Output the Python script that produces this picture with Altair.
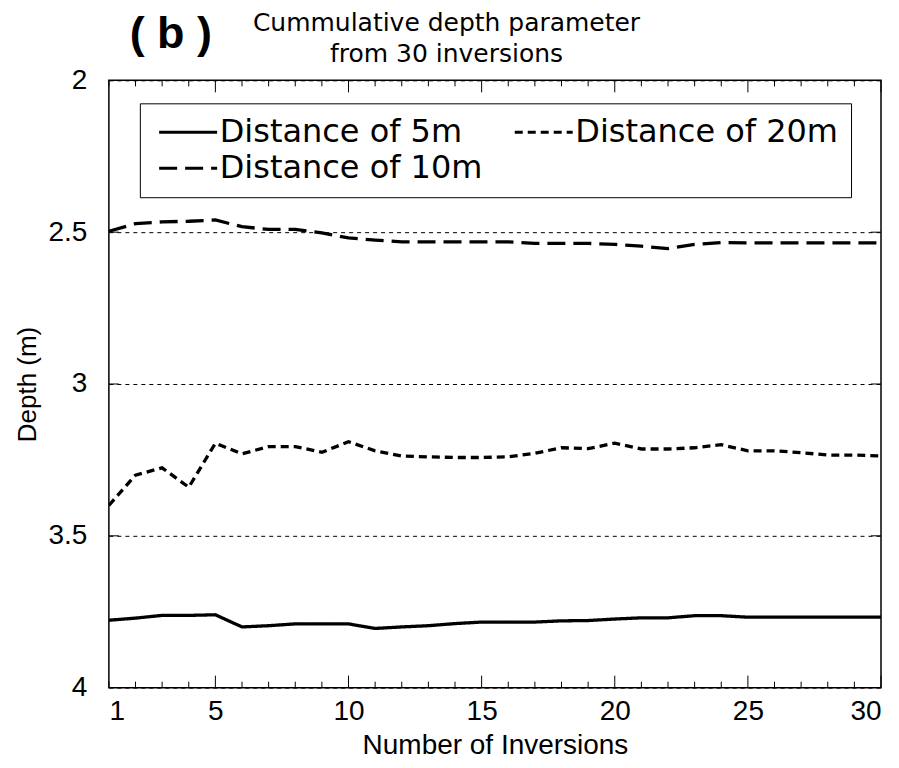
import altair as alt
import pandas as pd

# ---- data ----
inversions = list(range(1, 31))
series_names = ["Distance of 5m", "Distance of 10m", "Distance of 20m"]
depth_5m = [3.778, 3.771, 3.762, 3.762, 3.760, 3.800, 3.796, 3.790, 3.790, 3.790,
            3.805, 3.800, 3.796, 3.789, 3.784, 3.784, 3.784, 3.780, 3.779, 3.774,
            3.770, 3.770, 3.763, 3.763, 3.768, 3.768, 3.768, 3.768, 3.768, 3.768]
depth_10m = [2.497, 2.472, 2.466, 2.464, 2.460, 2.482, 2.491, 2.491, 2.502, 2.519,
             2.526, 2.532, 2.532, 2.532, 2.532, 2.532, 2.537, 2.537, 2.537, 2.540,
             2.546, 2.554, 2.540, 2.534, 2.535, 2.535, 2.535, 2.535, 2.535, 2.535]
depth_20m = [3.400, 3.300, 3.276, 3.340, 3.195, 3.230, 3.206, 3.206, 3.225, 3.190,
             3.220, 3.237, 3.240, 3.242, 3.242, 3.240, 3.228, 3.210, 3.213, 3.195,
             3.214, 3.214, 3.210, 3.200, 3.220, 3.220, 3.226, 3.234, 3.234, 3.237]
x_tick_labels = [1, 5, 10, 15, 20, 25, 30]
y_tick_labels = [2, 2.5, 3, 3.5, 4]
y_inner_ticks = [2.5, 3, 3.5]
title_lines = ["Cummulative depth parameter", "from 30 inversions"]
panel_text = "( b )"

W, H = 773, 608
FONT = "Liberation Sans"
FONT2 = "DejaVu Sans"

rows = []
for name, vals in zip(series_names, [depth_5m, depth_10m, depth_20m]):
    for n, d in zip(inversions, vals):
        rows.append({"n": n, "depth": d, "series": name})
df = pd.DataFrame(rows)

ticks_df = pd.DataFrame({"t": inversions,
                         "major": [t % 5 == 0 for t in inversions]})
yt_df = pd.DataFrame({"v": y_inner_ticks})

xscale = alt.Scale(domain=[1, 30], nice=False, zero=False)
yscale = alt.Scale(domain=[2, 4], reverse=True, nice=False, zero=False)

lines = alt.Chart(df).mark_line(color="black", strokeWidth=3.3, clip=True).encode(
    x=alt.X("n:Q", scale=xscale,
            axis=alt.Axis(values=x_tick_labels, title="Number of Inversions",
                          grid=False, ticks=False, domain=False,
                          labelPadding=10, titlePadding=6, titleFontSize=28)),
    y=alt.Y("depth:Q", scale=yscale,
            axis=alt.Axis(values=y_tick_labels, format="~g", title="Depth (m)",
                          grid=True, gridDash=[4, 4], gridColor="black",
                          gridWidth=1, gridOpacity=1,
                          ticks=False, domain=False,
                          labelPadding=22, titlePadding=8, titleFontSize=26)),
    strokeDash=alt.StrokeDash(
        "series:N",
        scale=alt.Scale(domain=series_names, range=[[1, 0], [18, 8], [8, 5]]),
        legend=alt.Legend(title=None, orient="none", legendX=31, legendY=23,
                          columns=2, columnPadding=26, rowPadding=4,
                          symbolType="M -1 0 H 5", symbolSize=374,
                          symbolStrokeWidth=3, symbolStrokeColor="black",
                          labelFontSize=32, labelFont=FONT2, labelLimit=500,
                          labelOffset=35, labelColor="black",
                          padding=13, strokeColor="black", fillColor="white"),
    ),
)

minor_bottom = alt.Chart(ticks_df).transform_filter("!datum.major").mark_rule(
    color="black", strokeWidth=1).encode(
    x=alt.X("t:Q", scale=xscale), y=alt.value(H), y2=alt.value(H - 6))
major_bottom = alt.Chart(ticks_df).transform_filter("datum.major").mark_rule(
    color="black", strokeWidth=1).encode(
    x=alt.X("t:Q", scale=xscale), y=alt.value(H), y2=alt.value(H - 12))
minor_top = alt.Chart(ticks_df).transform_filter("!datum.major").mark_rule(
    color="black", strokeWidth=1).encode(
    x=alt.X("t:Q", scale=xscale), y=alt.value(0), y2=alt.value(6))
major_top = alt.Chart(ticks_df).transform_filter("datum.major").mark_rule(
    color="black", strokeWidth=1).encode(
    x=alt.X("t:Q", scale=xscale), y=alt.value(0), y2=alt.value(12))
right_ticks = alt.Chart(yt_df).mark_rule(color="black", strokeWidth=1).encode(
    y=alt.Y("v:Q", scale=yscale), x=alt.value(W - 10), x2=alt.value(W))
left_ticks = alt.Chart(yt_df).mark_rule(color="black", strokeWidth=1).encode(
    y=alt.Y("v:Q", scale=yscale), x=alt.value(0), x2=alt.value(10))

panel_label = alt.Chart(pd.DataFrame({"lab": [panel_text]})).mark_text(
    font=FONT, fontSize=45, fontWeight="bold", color="black",
    align="center", baseline="middle").encode(
    text="lab:N", x=alt.value(62), y=alt.value(-46))

title_mark = alt.Chart(pd.DataFrame({"k": [0]})).mark_text(
    text=title_lines, font=FONT2, fontSize=25, color="black",
    align="center", baseline="alphabetic", lineHeight=31).encode(
    x=alt.value(338), y=alt.value(-49))

chart = alt.layer(lines, minor_bottom, major_bottom, minor_top, major_top,
                  right_ticks, left_ticks, panel_label, title_mark).properties(
    width=W, height=H,
    autosize=alt.AutoSizeParams(type="none"),
    padding={"left": 101, "top": 72, "right": 10, "bottom": 72},
).configure(font=FONT).configure_view(
    stroke="black", strokeWidth=1.5
).configure_axis(
    labelFont=FONT, titleFont=FONT, labelFontSize=28, titleFontSize=27,
    labelColor="black", titleColor="black", titleFontWeight="normal"
)

chart.save("out.html", embed_options={"renderer": "svg", "actions": False})
